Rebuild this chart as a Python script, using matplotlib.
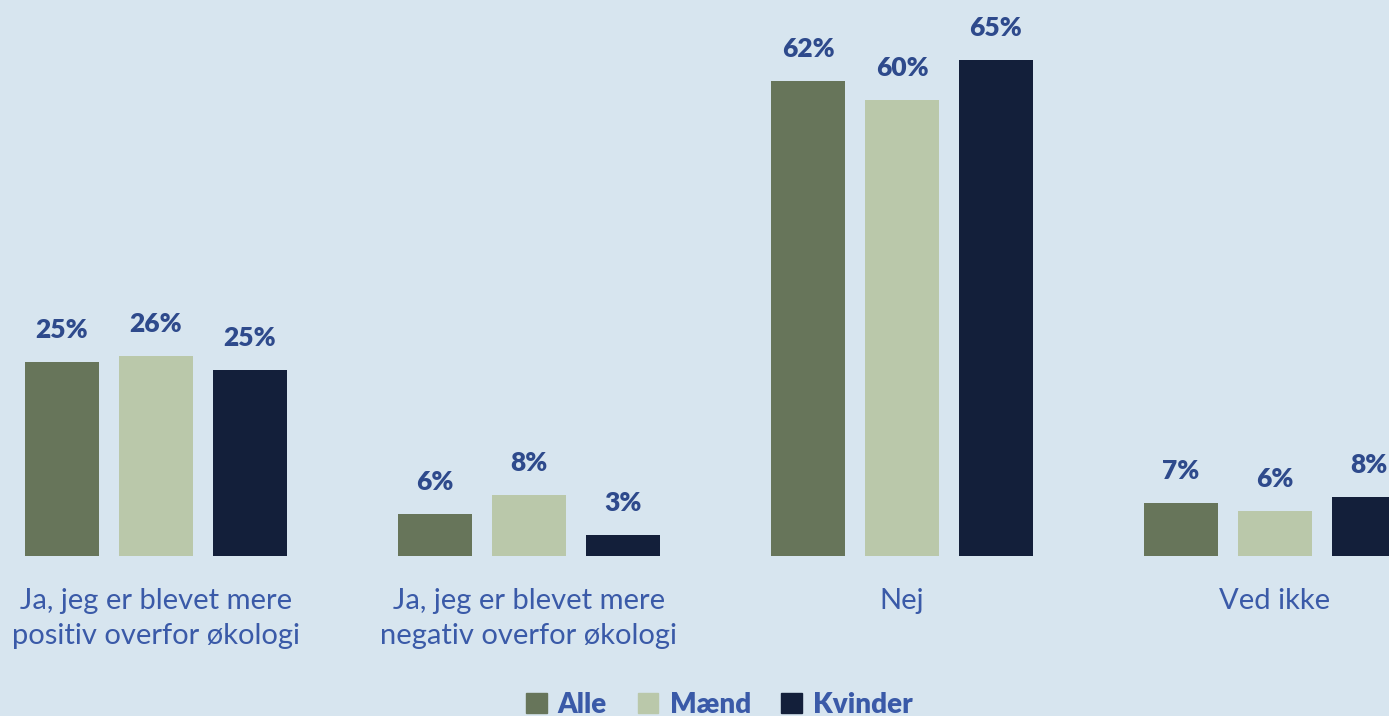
import matplotlib.pyplot as plt
from matplotlib.patches import Patch

categories = ["Ja, jeg er blevet mere\npositiv overfor økologi",
              "Ja, jeg er blevet mere\nnegativ overfor økologi",
              "Nej",
              "Ved ikke"]
series = ["Alle", "Mænd", "Kvinder"]

# heights, labels as printed
alle = [25.3, 5.5, 62.0, 6.9]
maend = [26.1, 8.0, 59.5, 5.9]
kvinder = [24.3, 2.7, 64.8, 7.7]
alle_lbl = ["25%", "6%", "62%", "7%"]
maend_lbl = ["26%", "8%", "60%", "6%"]
kvinder_lbl = ["25%", "3%", "65%", "8%"]

colors = ["#67755a", "#bac8aa", "#131f3a"]
bg = "#d7e5ef"
value_color = "#2e4a8c"
cat_color = "#3a5aa8"

fig = plt.figure(figsize=(13.89, 7.16), dpi=100, facecolor=bg)
ax = fig.add_axes([0, 160 / 716, 1, 556 / 716])
ax.set_facecolor(bg)

step = 0.252
width = 0.198
xs = range(len(categories))
for i, (vals, lbls) in enumerate(zip([alle, maend, kvinder], [alle_lbl, maend_lbl, kvinder_lbl])):
    pos = [x + (i - 1) * step for x in xs]
    bars = ax.bar(pos, vals, width=width, color=colors[i], zorder=2)
    for b, t in zip(bars, lbls):
        ax.annotate(t, (b.get_x() + b.get_width() / 2, b.get_height()),
                    xytext=(0, 20), textcoords="offset pixels",
                    ha="center", va="bottom", fontsize=19, fontweight="heavy",
                    color=value_color, family="Lato")

for x, c in zip(xs, categories):
    ax.annotate(c, (x, 0), xycoords=("data", "axes fraction"),
                xytext=(0, -32), textcoords="offset pixels",
                ha="center", va="top", fontsize=21, fontweight="normal",
                color=cat_color, family="Lato", linespacing=1.42)

ax.set_xlim(-156 / 373, 1233 / 373)
ax.set_ylim(0, 556 / 7.66)
ax.axis("off")

handles = [Patch(color=c) for c in colors]
leg = fig.legend(handles, series, loc="center", bbox_to_anchor=(0.518, 0.016), ncol=3,
                 frameon=False, handlelength=0.75, handleheight=0.75, handletextpad=0.4,
                 columnspacing=1.1, prop={"family": "Lato", "weight": "heavy", "size": 20})
for t in leg.get_texts():
    t.set_color(cat_color)

fig.savefig("out.png", dpi=100, facecolor=bg)
